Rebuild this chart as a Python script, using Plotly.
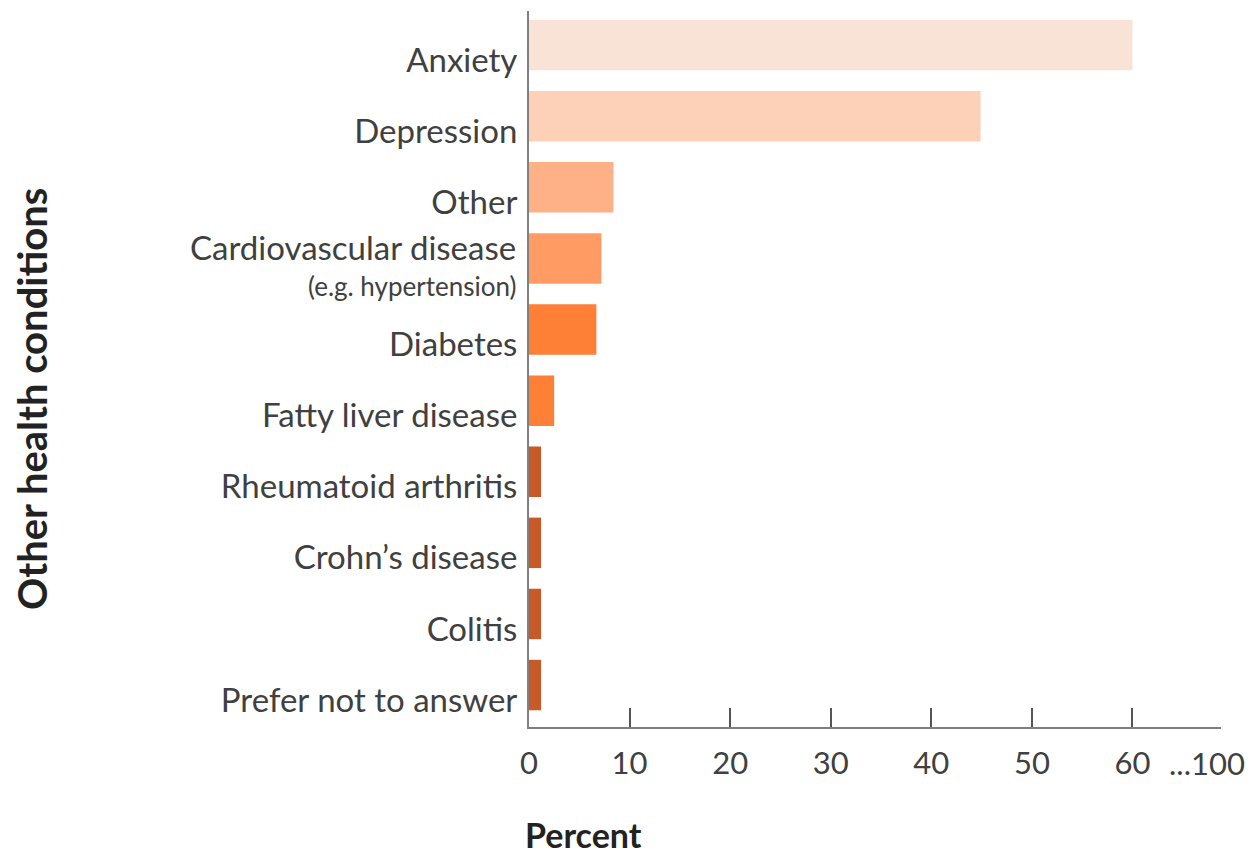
import plotly.graph_objects as go

# data
conditions = [
    "Anxiety",
    "Depression",
    "Other",
    "Cardiovascular disease",
    "Diabetes",
    "Fatty liver disease",
    "Rheumatoid arthritis",
    "Crohn\u2019s disease",
    "Colitis",
    "Prefer not to answer",
]
cardio_note = "(e.g. hypertension)"
percent = [60.0, 44.9, 8.4, 7.2, 6.7, 2.5, 1.2, 1.2, 1.2, 1.2]
bar_colors = ["#F9E3D6", "#FDD0B8", "#FEB187", "#FF9B63", "#FE7F36",
              "#FE7F36", "#C65A28", "#C65A28", "#C65A28", "#C65A28"]

x_tickvals = [0, 10, 20, 30, 40, 50, 60, 68.75]
x_ticktext = ["0", "10", "20", "30", "40", "50", "60", ""]
x_break_label = "...100"

FONT = "Lato, 'Open Sans', sans-serif"
TEXT = "#404040"

# cardiovascular label is drawn as annotations (two lines, two sizes)
y_ticktext = ["" if c == "Cardiovascular disease" else c for c in conditions]

fig = go.Figure()
fig.add_trace(go.Bar(
    x=percent,
    y=conditions,
    orientation="h",
    marker=dict(color=bar_colors, line=dict(width=0)),
    hoverinfo="x+y",
    showlegend=False,
))

fig.update_yaxes(
    categoryorder="array",
    categoryarray=conditions,
    tickmode="array",
    tickvals=conditions,
    ticktext=y_ticktext,
    range=[9.59, -0.48],
    showline=True,
    linecolor="#7f7f7f",
    linewidth=2,
    ticks="",
    showgrid=False,
    zeroline=False,
    ticklabelstandoff=3,
    ticklabelshift=-15,
    tickfont=dict(family=FONT, size=33, color=TEXT),
)

fig.update_xaxes(
    range=[0, 68.8],
    tickmode="array",
    tickvals=x_tickvals,
    ticktext=x_ticktext,
    showline=True,
    linecolor="#7f7f7f",
    linewidth=2,
    ticks="inside",
    ticklen=19,
    tickwidth=2,
    tickcolor="#555555",
    showgrid=False,
    zeroline=False,
    ticklabelstandoff=8,
    tickfont=dict(family=FONT, size=31, color=TEXT),
)

# two-line cardiovascular label
fig.add_annotation(
    text=conditions[3], xref="paper", yref="y", x=0, y=conditions[3],
    xanchor="right", yanchor="middle", xshift=-11, yshift=11,
    showarrow=False, font=dict(family=FONT, size=33, color=TEXT),
)
fig.add_annotation(
    text=cardio_note, xref="paper", yref="y", x=0, y=conditions[3],
    xanchor="right", yanchor="middle", xshift=-11, yshift=-28,
    showarrow=False, font=dict(family=FONT, size=26, color=TEXT),
)

# "...100" break label, slightly left of its tick
fig.add_annotation(
    text=x_break_label, xref="x", yref="paper", x=x_tickvals[-1], y=0,
    xanchor="center", yanchor="middle", xshift=-14, yshift=-36,
    showarrow=False, font=dict(family=FONT, size=31, color=TEXT),
)

# axis titles
fig.add_annotation(
    text="<b>Percent</b>", xref="paper", yref="paper",
    x=(583 - 529) / 692, y=-(834 - 727) / 716, xanchor="center", yanchor="middle",
    showarrow=False, font=dict(family=FONT, size=34, color="#222222"),
)
fig.add_annotation(
    text="<b>Other health conditions</b>", xref="paper", yref="paper",
    x=-(529 - 32) / 692, y=(727 - 399) / 716, xanchor="center", yanchor="middle",
    textangle=-90, showarrow=False,
    font=dict(family=FONT, size=40, color="#222222"),
)

# page body adds 8px; margins compensate so the plot lands where the reference has it
fig.update_layout(
    width=1257,
    height=857,
    margin=dict(l=521, r=44, t=3, b=138),
    bargap=0.29,
    plot_bgcolor="white",
    paper_bgcolor="white",
    font=dict(family=FONT),
)

fig.write_html("out.html")
